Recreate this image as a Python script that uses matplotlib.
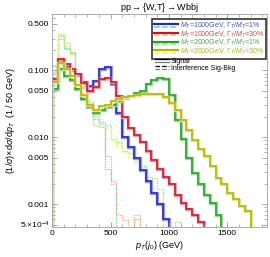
import numpy as np
import matplotlib
matplotlib.use("Agg")
from matplotlib import pyplot as plt
from matplotlib.lines import Line2D
from matplotlib.legend_handler import HandlerBase
import matplotlib.patheffects as pe

plt.rcParams['font.family'] = ['Liberation Sans', 'DejaVu Sans']
plt.rcParams['mathtext.fontset'] = 'custom'
plt.rcParams['mathtext.rm'] = 'Liberation Sans'
plt.rcParams['mathtext.it'] = 'Liberation Sans:italic'

binw = 50  # GeV

# signal histograms (1/sigma dsigma/dpT per 50 GeV)
blue_sig = [0.07, 0.145, 0.115, 0.10, 0.085, 0.068, 0.058, 0.07, 0.105, 0.112,
            0.062, 0.023, 0.010, 0.0072, 0.0049, 0.0033, 0.0022, 0.0015, 0.001, 0.0006]
red_sig = [0.075, 0.15, 0.125, 0.105, 0.09, 0.065, 0.05, 0.057, 0.075, 0.078,
           0.068, 0.042, 0.02, 0.014, 0.011, 0.0085, 0.0062, 0.0046, 0.0034, 0.0026,
           0.002, 0.0014, 0.00105, 0.00084, 0.0007, 0.00055]
green_sig = [0.053, 0.106, 0.084, 0.071, 0.053, 0.038, 0.028, 0.023, 0.026, 0.028,
             0.031, 0.035, 0.039, 0.041, 0.046, 0.05, 0.062, 0.073, 0.077, 0.075,
             0.043, 0.018, 0.0095, 0.0049, 0.0029, 0.002, 0.0014, 0.00105, 0.0007]
yellow_sig = [0.067, 0.129, 0.105, 0.084, 0.06, 0.043, 0.031, 0.026, 0.029, 0.031,
              0.035, 0.038, 0.040, 0.042, 0.043, 0.044, 0.045, 0.045, 0.044, 0.040,
              0.033, 0.026, 0.018, 0.013, 0.0093, 0.0066, 0.0052, 0.0037, 0.0025, 0.0020,
              0.0015, 0.0012, 0.00093, 0.00079]

# interference histograms
cyan_int = [0.115, 0.33, 0.22, 0.18, 0.085, 0.055, 0.03, 0.019, 0.016, 0.0034,
            0.0022, 0, 0, 0, 0.0006]
orange_int = [0.095, 0.29, 0.26, 0.19, 0.09, 0.058, 0.035, 0.0155, 0.0145, 0.0052,
              0.002, 0.0007, 0.00058, 0, 0.0007]
lgreen_int = [0.12, 0.35, 0.21, 0.18, 0.088, 0.056, 0.033, 0.021, 0.017, 0.0155,
              0.0095, 0.0085, 0.0062, 0.0058, 0.0045, 0.0038, 0.0026, 0.0025, 0.0017, 0,
              0, 0.00055]
yellow_int = [0.10, 0.34, 0.23, 0.17, 0.085, 0.052, 0.031, 0.02, 0.016, 0.014,
              0.009, 0.0075, 0.006, 0.005, 0.0042, 0.0031, 0.0021, 0.0013, 0.0011]

labels = [r"$M_T$=1000GeV, $\Gamma_T/M_T$=1%",
          r"$M_T$=1000GeV, $\Gamma_T/M_T$=30%",
          r"$M_T$=2000GeV, $\Gamma_T/M_T$=1%",
          r"$M_T$=2000GeV, $\Gamma_T/M_T$=30%"]

sig_colors = ['#2626b4', '#c4142c', '#2a9c2a', '#b4b400']
halo_colors = ['#9a9ade', '#eaa0a8', '#9cd89c', '#e2e29a']
int_colors = ['#55d2e2', '#ffa474', '#74f074', '#f0f058']
text_colors = ['#3a4ec0', '#d04848', '#44a844', '#b0b020']

FLOOR = 1e-6


class DoubleLine(HandlerBase):
    def create_artists(self, legend, orig_handle, xdescent, ydescent,
                       width, height, fontsize, trans):
        top, bot = orig_handle
        l1 = Line2D([-xdescent, width - xdescent], [0.75 * height] * 2,
                    color=top.get_color(), lw=top.get_linewidth(),
                    ls=top.get_linestyle())
        l2 = Line2D([-xdescent, width - xdescent], [0.2 * height] * 2,
                    color=bot.get_color(), lw=bot.get_linewidth(),
                    ls=bot.get_linestyle())
        l1.set_transform(trans)
        l2.set_transform(trans)
        return [l1, l2]


def hist(ax, vals, **kw):
    v = np.asarray(vals, dtype=float)
    v = np.where(v > 0, v, FLOOR)
    edges = np.arange(len(v) + 1) * binw
    return ax.stairs(v, edges, baseline=FLOOR, **kw)


fig = plt.figure(figsize=(2.70, 2.57), dpi=100)
ax = fig.add_axes([0.193, 0.117, 0.796, 0.829])

sigs = [blue_sig, red_sig, green_sig, yellow_sig]
ints = [cyan_int, orange_int, lgreen_int, yellow_int]

for vals, c in zip(ints, int_colors):
    hist(ax, vals, color=c, lw=0.9, ls=(0, (1, 1)))
for vals, c, h in zip(sigs, sig_colors, halo_colors):
    hist(ax, vals, color=c, lw=1.1,
         path_effects=[pe.Stroke(linewidth=2.4, foreground=h), pe.Normal()])

ax.set_yscale('log')
ax.set_xlim(0, 1840)
ax.set_ylim(4.6e-4, 0.70)

ax.set_xticks([0, 500, 1000, 1500])
ax.set_xticks(np.arange(0, 1840, 100), minor=True)
yt = [5e-4, 0.001, 0.005, 0.010, 0.050, 0.100, 0.500]
ax.set_yticks(yt)
ax.set_yticklabels([r"5.$\times$10$^{-4}$", "0.001", "0.005", "0.010",
                    "0.050", "0.100", "0.500"])
ax.tick_params(which='both', direction='in', top=True, right=True,
               color='#999999', labelsize=6, pad=2)
ax.tick_params(which='major', length=3.5, width=0.6)
ax.tick_params(which='minor', length=2, width=0.5)
ax.yaxis.set_minor_formatter(matplotlib.ticker.NullFormatter())
for s in ax.spines.values():
    s.set_color('#aaaaaa')
    s.set_linewidth(0.7)

ax.set_title(r"pp$\rightarrow${W,T}$\rightarrow$Wbbj", fontsize=6.5, pad=3)
ax.set_xlabel(r"$p_T(j_0)$ (GeV)", fontsize=6.5, labelpad=2)
ax.set_ylabel(r"(1/$\sigma$)$\times$d$\sigma$/d$p_T$  (1 / 50 GeV)",
              fontsize=6.5, labelpad=2)

handles = []
for c, ci in zip(sig_colors, int_colors):
    handles.append((Line2D([], [], color=c, lw=1.6),
                    Line2D([], [], color=ci, lw=1.1, ls=(0, (1, 1)))))
leg = ax.legend(handles, labels, handler_map={tuple: DoubleLine()},
                loc='upper right', bbox_to_anchor=(0.997, 0.978),
                fontsize=5.0, frameon=True, fancybox=False, handlelength=3.4,
                handleheight=0.7, handletextpad=0.25, labelspacing=-0.2,
                borderpad=0.3, borderaxespad=0.0)
leg.get_frame().set_edgecolor('black')
leg.get_frame().set_linewidth(1.2)
for t, c in zip(leg.get_texts(), text_colors):
    t.set_color(c)
ax.add_artist(leg)

h2 = [(Line2D([], [], color='black', lw=0.9), Line2D([], [], color='#777777', lw=0.9)),
      (Line2D([], [], color='black', lw=0.9, ls=(0, (1, 1))),
       Line2D([], [], color='#777777', lw=0.9, ls=(0, (1, 1))))]
leg2 = ax.legend(h2, ["Signal", "Interference Sig-Bkg"],
                 handler_map={tuple: DoubleLine()}, loc='upper left',
                 bbox_to_anchor=(0.478, 0.795), fontsize=5.0, frameon=False,
                 handlelength=2.0, handleheight=0.7, handletextpad=0.3,
                 labelspacing=0.0, borderpad=0.0, borderaxespad=0.0)

fig.savefig('out.png', dpi=100)
